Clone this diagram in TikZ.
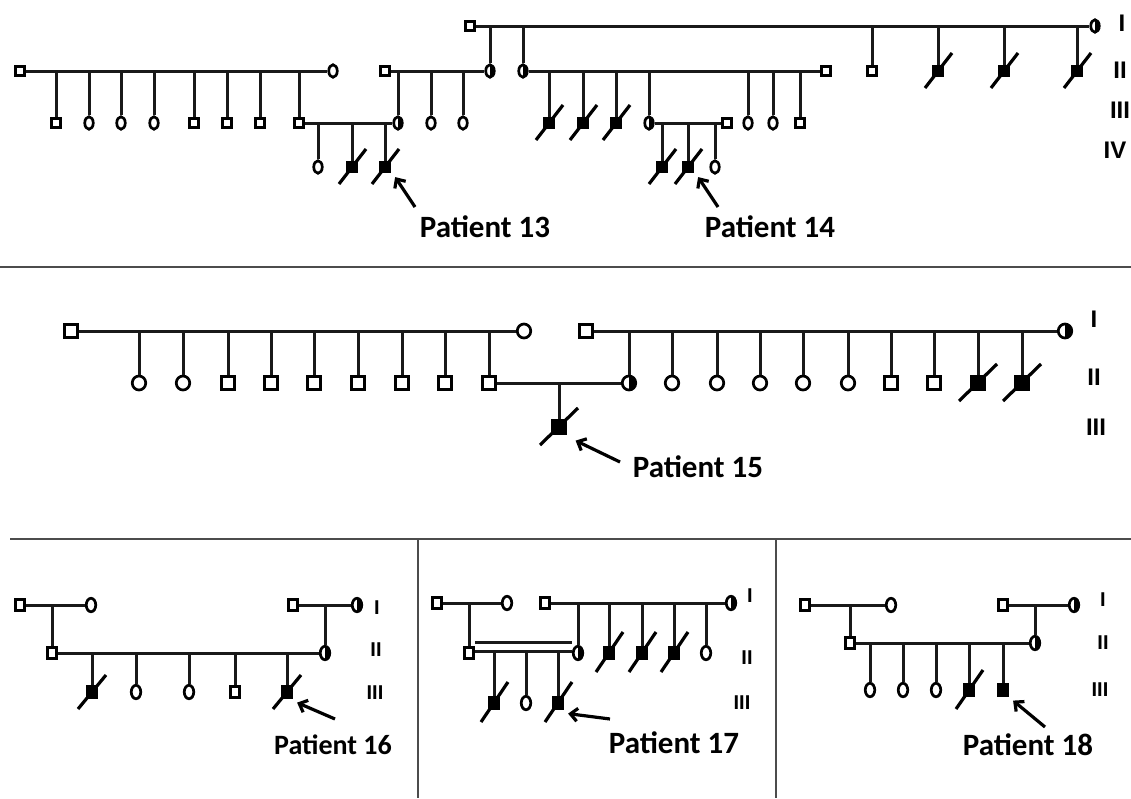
\documentclass[tikz,border=0pt]{standalone}
\usepackage{fontspec}
\usetikzlibrary{arrows.meta,shapes.geometric}
\newfontfamily\patfont{Carlito}
\newfontfamily\genfont{Liberation Sans}
\newcommand\symsize[4]{\def\sqw{#1}\def\sqh{#2}\def\ovw{#3}\def\ovh{#4}}

\begin{document}
\begin{tikzpicture}[x=1pt, y=-1pt,
    person/.style={draw=black, line width=2.7pt, inner sep=0pt, fill=white},
    male/.style={person, rectangle, minimum width=\sqw, minimum height=\sqh},
    female/.style={person, ellipse, minimum width=\ovw, minimum height=\ovh},
    carrier/.style={female, path picture={\fill[black] (path picture bounding box.north) rectangle (path picture bounding box.south east);}},
    affected/.style={male, fill=black},
    kin/.style={draw=black!90, line width=3pt},
    slash/.style={line width=3.2pt},
    arrow/.style={-{Straight Barb[length=7pt,width=13pt]}, line width=3.2pt},
    patient/.style={font=\patfont\bfseries\fontsize{#1}{#1}\selectfont, inner sep=0pt},
    patient/.default=31,
    gen/.style={font=\genfont\bfseries\fontsize{24}{24}\selectfont, inner sep=0pt},
    thingen/.style={font=\genfont\bfseries\fontsize{20}{20}\selectfont, inner sep=0pt},
    divider/.style={draw=black!70, line width=1.8pt}
  ]
  \useasboundingbox (0,0) rectangle (1131,798);

  % ---- top pedigree (patients 13 and 14)
  \symsize{9.5pt}{9.5pt}{8.5pt}{12.5pt}
  \node[male] (tp1) at (470,26) {};
  \node[carrier] (tp2) at (1095,26) {};
  \node[male] (ap1) at (20,71) {};
  \node[female] (ap2) at (333,71) {};
  \node[male] (bp1) at (385,71) {};
  \node[carrier] (bp2) at (490,71) {};
  \node[carrier] (cp1) at (523,71) {};
  \node[male] (cp2) at (826,71) {};
  \foreach \x/\s [count=\i] in {872/male,938/affected,1004/affected,1077/affected}
    \node[\s] (tc\i) at (\x,71) {};
  \foreach \x/\s [count=\i] in {56/male,89/female,121/female,154/female,194/male,227/male,260/male,299/male}
    \node[\s] (ac\i) at (\x,123) {};
  \foreach \x/\s [count=\i] in {398/carrier,431/female,463/female}
    \node[\s] (bc\i) at (\x,123) {};
  \foreach \x/\s [count=\i] in {549/affected,583/affected,616/affected,649/carrier,748/female,773/female,800/male}
    \node[\s] (cc\i) at (\x,123) {};
  \node[male] (ep2) at (727,123) {};
  \foreach \x/\s [count=\i] in {318/female,352/affected,385/affected}
    \node[\s] (dc\i) at (\x,167) {};
  \foreach \x/\s [count=\i] in {662/affected,688/affected,715/female}
    \node[\s] (ec\i) at (\x,167) {};

  \draw[kin] (tp1) -- (tp2);
  \foreach \n in {bp2,cp1,tc1,tc2,tc3,tc4}
    \draw[kin] (\n.north) -- (\n.north |- tp1);
  \draw[kin] (ap1) -- (ap2);
  \foreach \i in {1,...,8}
    \draw[kin] (ac\i.north) -- (ac\i.north |- ap1);
  \draw[kin] (bp1) -- (bp2);
  \foreach \i in {1,2,3}
    \draw[kin] (bc\i.north) -- (bc\i.north |- bp1);
  \draw[kin] (cp1) -- (cp2);
  \foreach \i in {1,...,7}
    \draw[kin] (cc\i.north) -- (cc\i.north |- cp1);
  \draw[kin] (ac8) -- (bc1);
  \foreach \i in {1,2,3}
    \draw[kin] (dc\i.north) -- (dc\i.north |- ac8);
  \draw[kin] (cc4) -- (ep2);
  \foreach \i in {1,2,3}
    \draw[kin] (ec\i.north) -- (ec\i.north |- cc4);
  \foreach \n in {tc2,tc3,tc4,cc1,cc2,cc3,dc2,dc3,ec1,ec2}
    \draw[slash] (\n.center) ++(-13,17) -- ++(27,-35);

  \node[patient] (lbl13) at (485,227) {Patient 13};
  \node[patient] (lbl14) at (770,227) {Patient 14};
  \coordinate (a13) at (415,207);
  \coordinate (a14) at (718,207);
  \draw[arrow] (a13) -- ([shift={(4,4)}]dc3.south east);
  \draw[arrow] (a14) -- ([shift={(4,4)}]ec2.south east);

  \node[gen] (tg1) at (1122,23) {I};
  \node[gen] (tg2) at (1120,70) {II};
  \node[gen] (tg3) at (1120,110) {III};
  \node[gen] (tg4) at (1115,150) {IV};

  \draw[divider] (0,267) -- (1131,267);

  % ---- middle pedigree (patient 15)
  \symsize{12.5pt}{12.5pt}{13.5pt}{14pt}
  \node[male] (fp1) at (71,331) {};
  \node[female] (fp2) at (524,331) {};
  \foreach \x/\s [count=\i] in {139/female,183/female,228/male,271/male,314/male,358/male,402/male,445/male,489/male}
    \node[\s] (fc\i) at (\x,383) {};
  \node[male] (gp1) at (586,331) {};
  \node[carrier] (gp2) at (1065,331) {};
  \foreach \x/\s [count=\i] in {629/carrier,672/female,717/female,760/female,803/female,848/female,891/male,934/male,978/affected,1022/affected}
    \node[\s] (gc\i) at (\x,383) {};
  \node[affected] (hc1) at (559,427) {};

  \draw[kin] (fp1) -- (fp2);
  \foreach \i in {1,...,9}
    \draw[kin] (fc\i.north) -- (fc\i.north |- fp1);
  \draw[kin] (gp1) -- (gp2);
  \foreach \i in {1,...,10}
    \draw[kin] (gc\i.north) -- (gc\i.north |- gp1);
  \draw[kin] (fc9) -- (gc1);
  \draw[kin] (hc1.north) -- (hc1.north |- fc9);
  \foreach \n in {gc9,gc10,hc1}
    \draw[slash] (\n.center) ++(-19,18) -- ++(38,-37);

  \node[patient] (lbl15) at (698,467) {Patient 15};
  \coordinate (a15) at (620,462);
  \draw[arrow] (a15) -- ([shift={(9,6)}]hc1.south east);

  \node[gen] (mg1) at (1094,319) {I};
  \node[gen] (mg2) at (1094,377) {II};
  \node[gen] (mg3) at (1096,427) {III};

  \draw[divider] (10,539) -- (1131,539);
  \draw[divider] (418,539) -- (418,798);
  \draw[divider] (776,539) -- (776,798);

  % ---- bottom left (patient 16)
  \symsize{9.5pt}{10.5pt}{9.5pt}{13.5pt}
  \node[male] (ip1) at (20,605) {};
  \node[female] (ip2) at (91,605) {};
  \node[male] (ic1) at (52,653) {};
  \node[male] (jp1) at (293,605) {};
  \node[carrier] (jp2) at (357,605) {};
  \node[carrier] (jc1) at (325,653) {};
  \foreach \x/\s [count=\i] in {92/affected,136/female,189/female,235/male,287/affected}
    \node[\s] (kc\i) at (\x,692) {};

  \draw[kin] (ip1) -- (ip2);
  \draw[kin] (ic1.north) -- (ic1.north |- ip1);
  \draw[kin] (jp1) -- (jp2);
  \draw[kin] (jc1.north) -- (jc1.north |- jp1);
  \draw[kin] (ic1) -- (jc1);
  \foreach \i in {1,...,5}
    \draw[kin] (kc\i.north) -- (kc\i.north |- ic1);
  \foreach \n in {kc1,kc5}
    \draw[slash] (\n.center) ++(-14,17) -- ++(28,-34);

  \node[patient=28] (lbl16) at (333,745) {Patient 16};
  \coordinate (a16) at (335,719);
  \draw[arrow] (a16) -- ([shift={(4,4)}]kc5.south east);

  \node[thingen] (lg1) at (377,608) {I};
  \node[thingen] (lg2) at (376,650) {II};
  \node[thingen] (lg3) at (375,693) {III};

  % ---- bottom middle (patient 17)
  \node[male] (lp1) at (437,603) {};
  \node[female] (lp2) at (507,603) {};
  \node[male] (lc1) at (469,653) {};
  \node[male] (mp1) at (545,603) {};
  \node[carrier] (mp2) at (731,603) {};
  \foreach \x/\s [count=\i] in {578/carrier,609/affected,642/affected,674/affected,706/female}
    \node[\s] (mc\i) at (\x,653) {};
  \foreach \x/\s [count=\i] in {494/affected,526/female,558/affected}
    \node[\s] (nc\i) at (\x,703) {};
  \coordinate (lline) at ([yshift=2pt]lc1.center);

  \draw[kin] (lp1) -- (lp2);
  \draw[kin] (lc1.north) -- (lc1.north |- lp1);
  \draw[kin] (mp1) -- (mp2);
  \foreach \i in {1,...,5}
    \draw[kin] (mc\i.north) -- (mc\i.north |- mp1);
  \draw[kin, double=white, double distance=6pt] ([yshift=6pt]lc1.east) -- ([yshift=6pt]mc1.west);
  \foreach \i in {1,2,3}
    \draw[kin] (nc\i.north) -- (nc\i.north |- lline);
  \foreach \n in {mc2,mc3,mc4,nc1,nc3}
    \draw[slash] (\n.center) ++(-13,19) -- ++(27,-40);

  \node[patient] (lbl17) at (674,743) {Patient 17};
  \coordinate (a17) at (610,719);
  \draw[arrow] (a17) -- ([shift={(4,4)}]nc3.south east);

  \node[thingen] (cg1) at (750,596) {I};
  \node[thingen] (cg2) at (747,658) {II};
  \node[thingen] (cg3) at (742,703) {III};

  % ---- bottom right (patient 18)
  \node[male] (op1) at (805,605) {};
  \node[female] (op2) at (891,605) {};
  \node[male] (oc1) at (850,643) {};
  \node[male] (pp1) at (1003,605) {};
  \node[carrier] (pp2) at (1074,605) {};
  \node[carrier] (pc1) at (1035,643) {};
  \foreach \x/\s [count=\i] in {870/female,903/female,936/female,969/affected,1003/affected}
    \node[\s] (qc\i) at (\x,690) {};

  \draw[kin] (op1) -- (op2);
  \draw[kin] (oc1.north) -- (oc1.north |- op1);
  \draw[kin] (pp1) -- (pp2);
  \draw[kin] (pc1.north) -- (pc1.north |- pp1);
  \draw[kin] (oc1) -- (pc1);
  \foreach \i in {1,...,5}
    \draw[kin] (qc\i.north) -- (qc\i.north |- oc1);
  \draw[slash] (qc4.center) ++(-13,19) -- ++(27,-39);

  \node[patient] (lbl18) at (1028,745) {Patient 18};
  \coordinate (a18) at (1045,727);
  \draw[arrow] (a18) -- ([shift={(4,4)}]qc5.south east);

  \node[thingen] (rg1) at (1103,600) {I};
  \node[thingen] (rg2) at (1103,643) {II};
  \node[thingen] (rg3) at (1100,690) {III};
\end{tikzpicture}
\end{document}
